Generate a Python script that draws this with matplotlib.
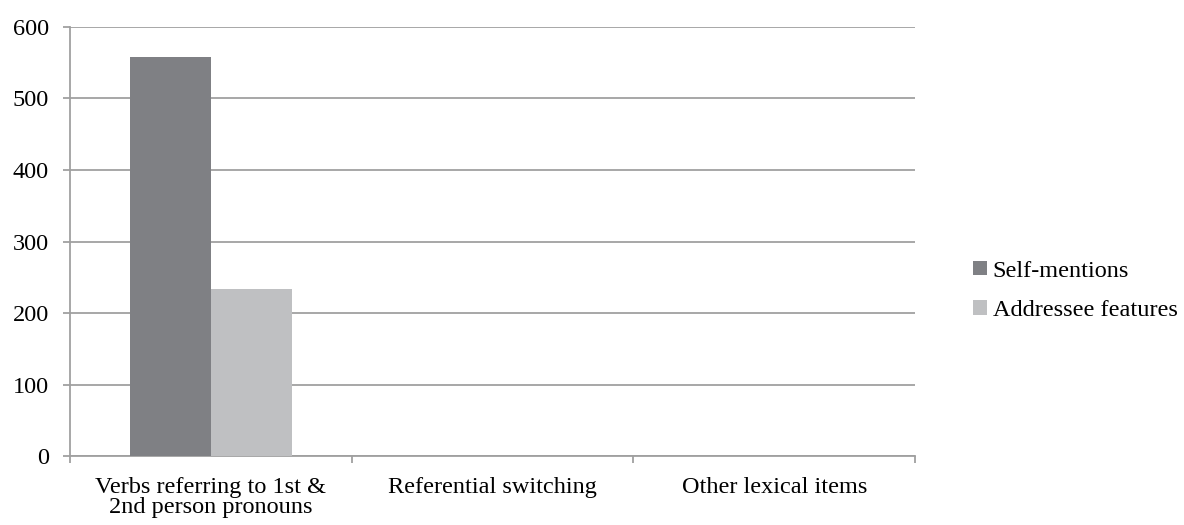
import matplotlib.pyplot as plt
import numpy as np

# Chart data
categories = ["Verbs referring to 1st &\n2nd person pronouns", "Referential switching", "Other lexical items"]
self_mentions = [558, 1, 0]
addressee_features = [233, 0, 1]
y_ticks = [0, 100, 200, 300, 400, 500, 600]

plt.rcParams['font.family'] = ['Liberation Serif', 'DejaVu Serif']
FS = 17.5

fig = plt.figure(figsize=(11.84, 5.25), dpi=100)
ax = fig.add_axes([0.059, 0.131, 0.714, 0.818])

x = np.arange(len(categories))
width = 0.287
grid_color = '#a0a0a0'

ax.bar(x - width / 2, self_mentions, width, color='#7f8084', label='Self-mentions', zorder=3)
ax.bar(x + width / 2, addressee_features, width, color='#bfc0c2', label='Addressee features', zorder=3)

ax.set_xlim(-0.5, len(categories) - 0.5)
ax.set_ylim(0, 600)
ax.set_yticks(y_ticks)
ax.yaxis.grid(True, color=grid_color, linewidth=1.3, zorder=0)

ax.set_xticks(x)
ax.set_xticklabels(categories, fontsize=FS, linespacing=0.95)
ax.tick_params(axis='x', length=0, pad=15)
# tick marks at category boundaries
ax.set_xticks(np.arange(-0.5, len(categories)), minor=True)
ax.tick_params(axis='x', which='minor', length=5, width=1.3, color=grid_color)
ax.tick_params(axis='y', length=5, width=1.3, color=grid_color, labelsize=FS, pad=10)

for side in ['top', 'right']:
    ax.spines[side].set_visible(False)
for side in ['left', 'bottom']:
    ax.spines[side].set_color(grid_color)
    ax.spines[side].set_linewidth(1.3)

ax.legend(loc='center left', bbox_to_anchor=(1.057, 0.385), frameon=False, fontsize=FS,
          borderaxespad=0, handlelength=0.55, handleheight=0.55, handletextpad=0.25,
          labelspacing=0.75)

fig.savefig('out.png', dpi=100)
